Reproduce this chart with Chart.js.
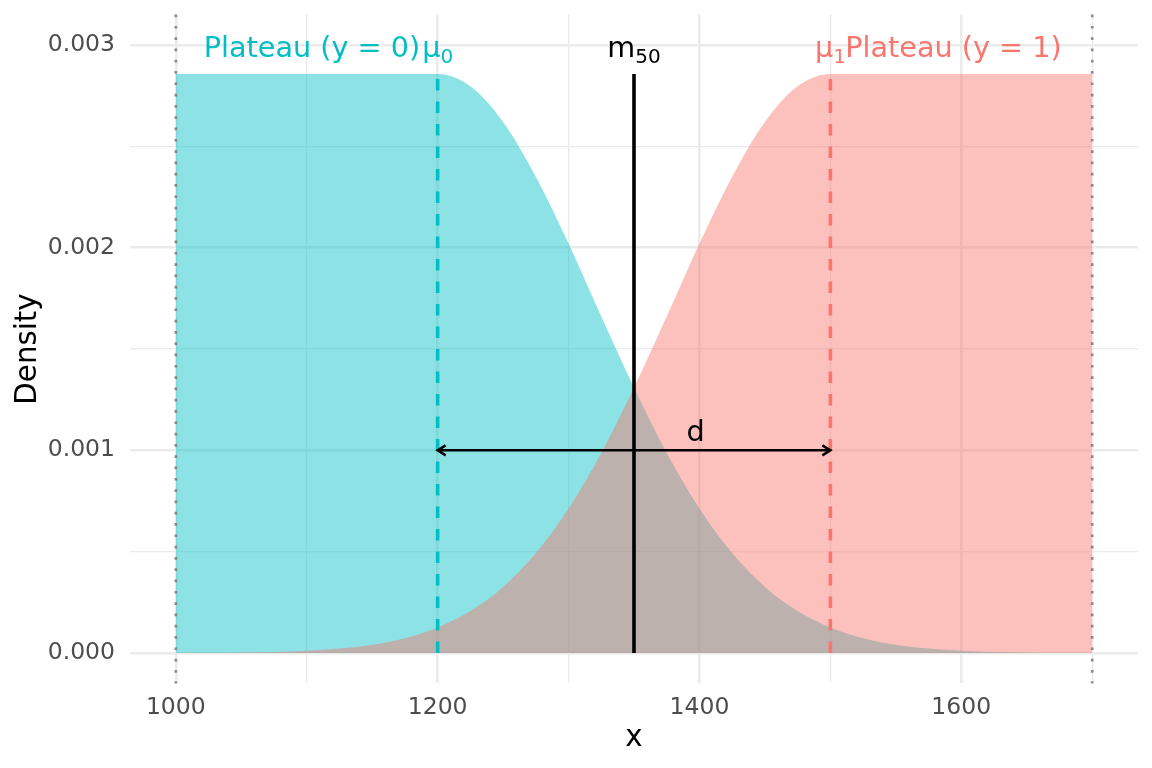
<!DOCTYPE html>
<html>
<head>
<meta charset="utf-8">
<script src="https://cdn.jsdelivr.net/npm/chart.js@4.4.1/dist/chart.umd.min.js"></script>
<style>
  html, body { margin: 0; padding: 0; background: #fff; }
  #wrap { width: 1152px; height: 768px; }
</style>
</head>
<body>
<div id="wrap"><canvas id="chart"></canvas></div>
<script>
const xGrid = [1000, 1025, 1050, 1075, 1100, 1125, 1150, 1175, 1200, 1225, 1250, 1275, 1300, 1325,
  1350, 1375, 1400, 1425, 1450, 1475, 1500, 1525, 1550, 1575, 1600, 1625, 1650, 1675, 1700];
// plateau (y = 0) density
const densityY0 = [0.002857, 0.002857, 0.002857, 0.002857, 0.002857, 0.002857, 0.002857, 0.002857,
  0.002857, 0.002796, 0.00262, 0.00235, 0.00202, 0.00166, 0.00131, 0.000987, 0.000713, 0.000493,
  0.000326, 0.000207, 0.000126, 0.000073, 0.000041, 0.000022, 0.000011, 0.000005, 0.0000025, 0.000001, 0.0000005];
// plateau (y = 1) density
const densityY1 = [0.0000005, 0.000001, 0.0000025, 0.000005, 0.000011, 0.000022, 0.000041, 0.000073,
  0.000126, 0.000207, 0.000326, 0.000493, 0.000713, 0.000987, 0.00131, 0.00166, 0.00202, 0.00235,
  0.00262, 0.002796, 0.002857, 0.002857, 0.002857, 0.002857, 0.002857, 0.002857, 0.002857, 0.002857, 0.002857];

const xTicks = [1000, 1100, 1200, 1300, 1400, 1500, 1600, 1700];
const xTickLabels = ['1000', '', '1200', '', '1400', '', '1600', ''];
const yTicks = [0, 0.0005, 0.001, 0.0015, 0.002, 0.0025, 0.003];
const yTickLabels = ['0.000', '', '0.001', '', '0.002', '', '0.003'];

const rangeBounds = [1000, 1700];
const mu0 = 1200;
const mu1 = 1500;
const m50 = 1350;
const plateauTop = 0.002857;
const arrowY = 0.001;
const labelY = 0.003;
const dPos = [1397, 0.00110];
const plateau0Pos = 1104;
const plateau1Pos = 1594;

const CYAN = '#00BFC4';
const RED = '#F8766D';
const FONT = "'DejaVu Sans', sans-serif";

function gridWidth(ctx, labels) {
  if (!ctx.tick) return 0;
  return labels[ctx.index] !== '' ? 2.6 : 1.3;
}

// text with an optional subscript, centred on xc
function subText(ctx, main, sub, xc, yBase, color) {
  ctx.fillStyle = color;
  ctx.textBaseline = 'alphabetic';
  ctx.textAlign = 'left';
  ctx.font = '28.7px ' + FONT;
  let w1 = ctx.measureText(main).width;
  ctx.font = '20px ' + FONT;
  let w2 = sub ? ctx.measureText(sub).width : 0;
  let x0 = xc - (w1 + w2) / 2;
  ctx.font = '28.7px ' + FONT;
  ctx.fillText(main, x0, yBase);
  if (sub) {
    ctx.font = '20px ' + FONT;
    ctx.fillText(sub, x0 + w1, yBase + 6);
  }
}

const annot = {
  id: 'annot',
  afterDatasetsDraw(chart) {
    const {ctx, chartArea: a, scales: {x, y}} = chart;
    ctx.save();

    // dotted range limits
    ctx.strokeStyle = 'rgba(120,120,120,0.85)';
    ctx.lineWidth = 2.6;
    ctx.setLineDash([2.7, 8.6]);
    rangeBounds.forEach(v => {
      let px = x.getPixelForValue(v);
      ctx.beginPath();
      ctx.moveTo(px, a.top);
      ctx.lineTo(px, a.bottom);
      ctx.stroke();
    });

    // vertical reference lines
    let vline = (v, col, dash, lw) => {
      ctx.strokeStyle = col;
      ctx.lineWidth = lw;
      ctx.setLineDash(dash);
      ctx.beginPath();
      ctx.moveTo(x.getPixelForValue(v), y.getPixelForValue(0));
      ctx.lineTo(x.getPixelForValue(v), y.getPixelForValue(plateauTop));
      ctx.stroke();
    };
    vline(mu0, CYAN, [11.5, 11], 3.6);
    vline(mu1, RED, [11.5, 11], 3.6);
    vline(m50, '#000', [], 3.6);

    // double arrow for d
    let ax0 = x.getPixelForValue(mu0), ax1 = x.getPixelForValue(mu1), ay = y.getPixelForValue(arrowY);
    ctx.setLineDash([]);
    ctx.strokeStyle = '#000';
    ctx.lineWidth = 2.5;
    ctx.beginPath();
    ctx.moveTo(ax0, ay);
    ctx.lineTo(ax1, ay);
    ctx.moveTo(ax0 + 8, ay - 5);
    ctx.lineTo(ax0, ay);
    ctx.lineTo(ax0 + 8, ay + 5);
    ctx.moveTo(ax1 - 8, ay - 5);
    ctx.lineTo(ax1, ay);
    ctx.lineTo(ax1 - 8, ay + 5);
    ctx.stroke();

    // labels
    let ly = y.getPixelForValue(labelY) + 11.5;
    subText(ctx, 'Plateau (y = 0)', '', x.getPixelForValue(plateau0Pos), ly, CYAN);
    subText(ctx, 'μ', '0', x.getPixelForValue(mu0), ly, CYAN);
    subText(ctx, 'm', '50', x.getPixelForValue(m50), ly, '#000');
    subText(ctx, 'μ', '1', x.getPixelForValue(mu1), ly, RED);
    subText(ctx, 'Plateau (y = 1)', '', x.getPixelForValue(plateau1Pos), ly, RED);
    subText(ctx, 'd', '', x.getPixelForValue(dPos[0]), y.getPixelForValue(dPos[1]) + 11, '#000');

    ctx.restore();
  }
};

new Chart(document.getElementById('chart'), {
  type: 'line',
  data: {
    datasets: [{
      label: 'Plateau (y = 1)',
      data: xGrid.map((v, i) => ({x: v, y: densityY1[i]})),
      borderWidth: 0,
      pointRadius: 0,
      fill: 'origin',
      backgroundColor: 'rgba(248,118,109,0.45)',
      cubicInterpolationMode: 'monotone'
    }, {
      label: 'Plateau (y = 0)',
      data: xGrid.map((v, i) => ({x: v, y: densityY0[i]})),
      borderWidth: 0,
      pointRadius: 0,
      fill: 'origin',
      backgroundColor: 'rgba(0,191,196,0.45)',
      cubicInterpolationMode: 'monotone'
    }]
  },
  options: {
    responsive: true,
    maintainAspectRatio: false,
    animation: false,
    layout: {padding: {top: 14.6, right: 14, bottom: 0, left: 0}},
    plugins: {legend: {display: false}, tooltip: {enabled: false}},
    scales: {
      x: {
        type: 'linear',
        min: 965,
        max: 1735,
        afterBuildTicks: s => { s.ticks = xTicks.map(v => ({value: v})); },
        afterFit: s => { s.height = 84.6; s.paddingLeft = 0; s.paddingRight = 0; },
        border: {display: false},
        grid: {
          color: '#EBEBEB',
          lineWidth: c => gridWidth(c, xTickLabels),
          drawTicks: false
        },
        ticks: {
          autoSkip: false,
          maxRotation: 0,
          padding: 10,
          color: '#4D4D4D',
          font: {family: FONT, size: 23.5},
          callback: (v, i) => xTickLabels[i]
        },
        title: {
          display: true,
          text: 'x',
          color: '#000',
          font: {family: FONT, size: 29.3},
          padding: {top: 0, bottom: 12}
        }
      },
      y: {
        type: 'linear',
        min: -0.00015,
        max: 0.00315,
        afterBuildTicks: s => { s.ticks = yTicks.map(v => ({value: v})); },
        afterFit: s => { s.width = 130; s.paddingTop = 0; s.paddingBottom = 0; },
        border: {display: false},
        grid: {
          color: '#EBEBEB',
          lineWidth: c => gridWidth(c, yTickLabels),
          drawTicks: false
        },
        ticks: {
          autoSkip: false,
          padding: 15,
          color: '#4D4D4D',
          font: {family: FONT, size: 23.5},
          callback: (v, i) => yTickLabels[i]
        },
        title: {
          display: true,
          text: 'Density',
          color: '#000',
          font: {family: FONT, size: 29.3},
          padding: {top: 11, bottom: 0}
        }
      }
    }
  },
  plugins: [annot]
});
</script>
</body>
</html>
